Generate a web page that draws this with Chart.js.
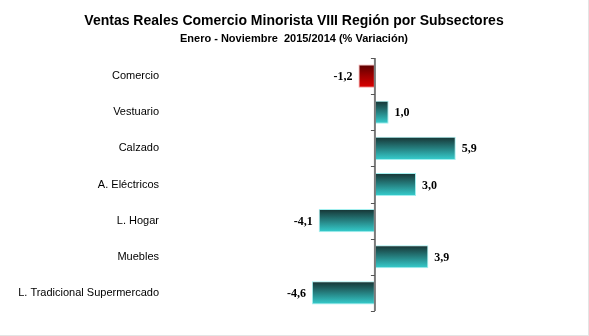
<!DOCTYPE html>
<html>
<head>
<meta charset="utf-8">
<script src="https://cdn.jsdelivr.net/npm/chart.js@4"></script>
<style>
  html,body{margin:0;padding:0;background:#fff;}
  #wrap{position:relative;width:588px;height:335px;border-right:1px solid #e4e4e4;border-bottom:1px solid #e4e4e4;}
</style>
</head>
<body>
<div id="wrap"><canvas id="c" width="588" height="335"></canvas></div>
<script>
const categories = ["Comercio","Vestuario","Calzado","A. Eléctricos","L. Hogar","Muebles","L. Tradicional Supermercado"];
const values = [-1.2, 1.0, 5.9, 3.0, -4.1, 3.9, -4.6];
const titleText = "Ventas Reales Comercio Minorista VIII Región por Subsectores";
const subtitleText = "Enero - Noviembre  2015/2014 (% Variación)";

function barGradient(ctx) {
  const chart = ctx.chart;
  const i = ctx.dataIndex;
  const yScale = chart.scales.y;
  if (!yScale || !chart.chartArea) return '#33cccc';
  const c = yScale.getPixelForValue(i);
  const half = (yScale.height / categories.length) * 0.64 / 2;
  const g = chart.ctx.createLinearGradient(0, c - half, 0, c + half);
  if (i === 0) {
    g.addColorStop(0, '#5a0000');
    g.addColorStop(0.5, '#a00000');
    g.addColorStop(1, '#dd0000');
  } else {
    g.addColorStop(0, '#163232');
    g.addColorStop(0.45, '#247878');
    g.addColorStop(1, '#36d0d0');
  }
  return g;
}

const zeroAxis = {
  id: 'zeroAxis',
  afterDatasetsDraw(chart) {
    const {ctx, chartArea} = chart;
    const x0 = chart.scales.x.getPixelForValue(0);
    const y = chart.scales.y;
    ctx.save();
    ctx.strokeStyle = '#7a7a7a';
    ctx.lineWidth = 2;
    ctx.beginPath();
    ctx.moveTo(x0, chartArea.top);
    ctx.lineTo(x0, chartArea.bottom);
    ctx.stroke();
    ctx.lineWidth = 1;
    ctx.strokeStyle = '#555';
    const step = y.height / categories.length;
    for (let k = 0; k <= categories.length; k++) {
      const yy = Math.round(chartArea.top + k * step) + 0.5;
      ctx.beginPath();
      ctx.moveTo(x0 - 4, yy);
      ctx.lineTo(x0, yy);
      ctx.stroke();
    }
    // value labels
    ctx.fillStyle = '#000';
    ctx.font = 'bold 12px "Liberation Serif", "Times New Roman", serif';
    ctx.textBaseline = 'middle';
    const meta = chart.getDatasetMeta(0);
    meta.data.forEach((bar, i) => {
      const v = values[i];
      const txt = v.toFixed(1).replace('.', ',');
      if (v >= 0) {
        ctx.textAlign = 'left';
        ctx.fillText(txt, bar.x + 6, bar.y + 1);
      } else {
        ctx.textAlign = 'right';
        ctx.fillText(txt, bar.x - 6, bar.y + 1);
      }
    });
    ctx.restore();
  }
};

new Chart(document.getElementById('c'), {
  type: 'bar',
  data: {
    labels: categories,
    datasets: [{
      data: values,
      backgroundColor: barGradient,
      borderColor: (ctx) => ctx.dataIndex === 0 ? 'rgba(240,120,120,0.7)' : 'rgba(140,235,235,0.8)',
      borderWidth: 1,
      borderSkipped: false,
      categoryPercentage: 1,
      barPercentage: 0.64
    }]
  },
  options: {
    indexAxis: 'y',
    responsive: false,
    animation: false,
    layout: { padding: { left: 0, right: 0, top: 0, bottom: 24 } },
    plugins: {
      legend: { display: false },
      tooltip: { enabled: false },
      title: {
        display: true,
        text: titleText,
        color: '#000',
        font: { family: '"Liberation Sans", Arial, sans-serif', size: 14, weight: 'bold' },
        padding: { top: 13, bottom: 3 }
      },
      subtitle: {
        display: true,
        text: subtitleText,
        color: '#000',
        font: { family: '"Liberation Sans", Arial, sans-serif', size: 11, weight: 'bold' },
        padding: { top: 0, bottom: 12 }
      }
    },
    scales: {
      x: {
        display: false,
        min: -15.1,
        max: 15.55
      },
      y: {
        afterFit(scale) { scale.width = 168; },
        grid: { display: false, drawTicks: false },
        border: { display: false },
        ticks: {
          color: '#000',
          padding: 9,
          font: { family: '"Liberation Sans", Arial, sans-serif', size: 11 }
        }
      }
    }
  },
  plugins: [zeroAxis]
});
</script>
</body>
</html>
